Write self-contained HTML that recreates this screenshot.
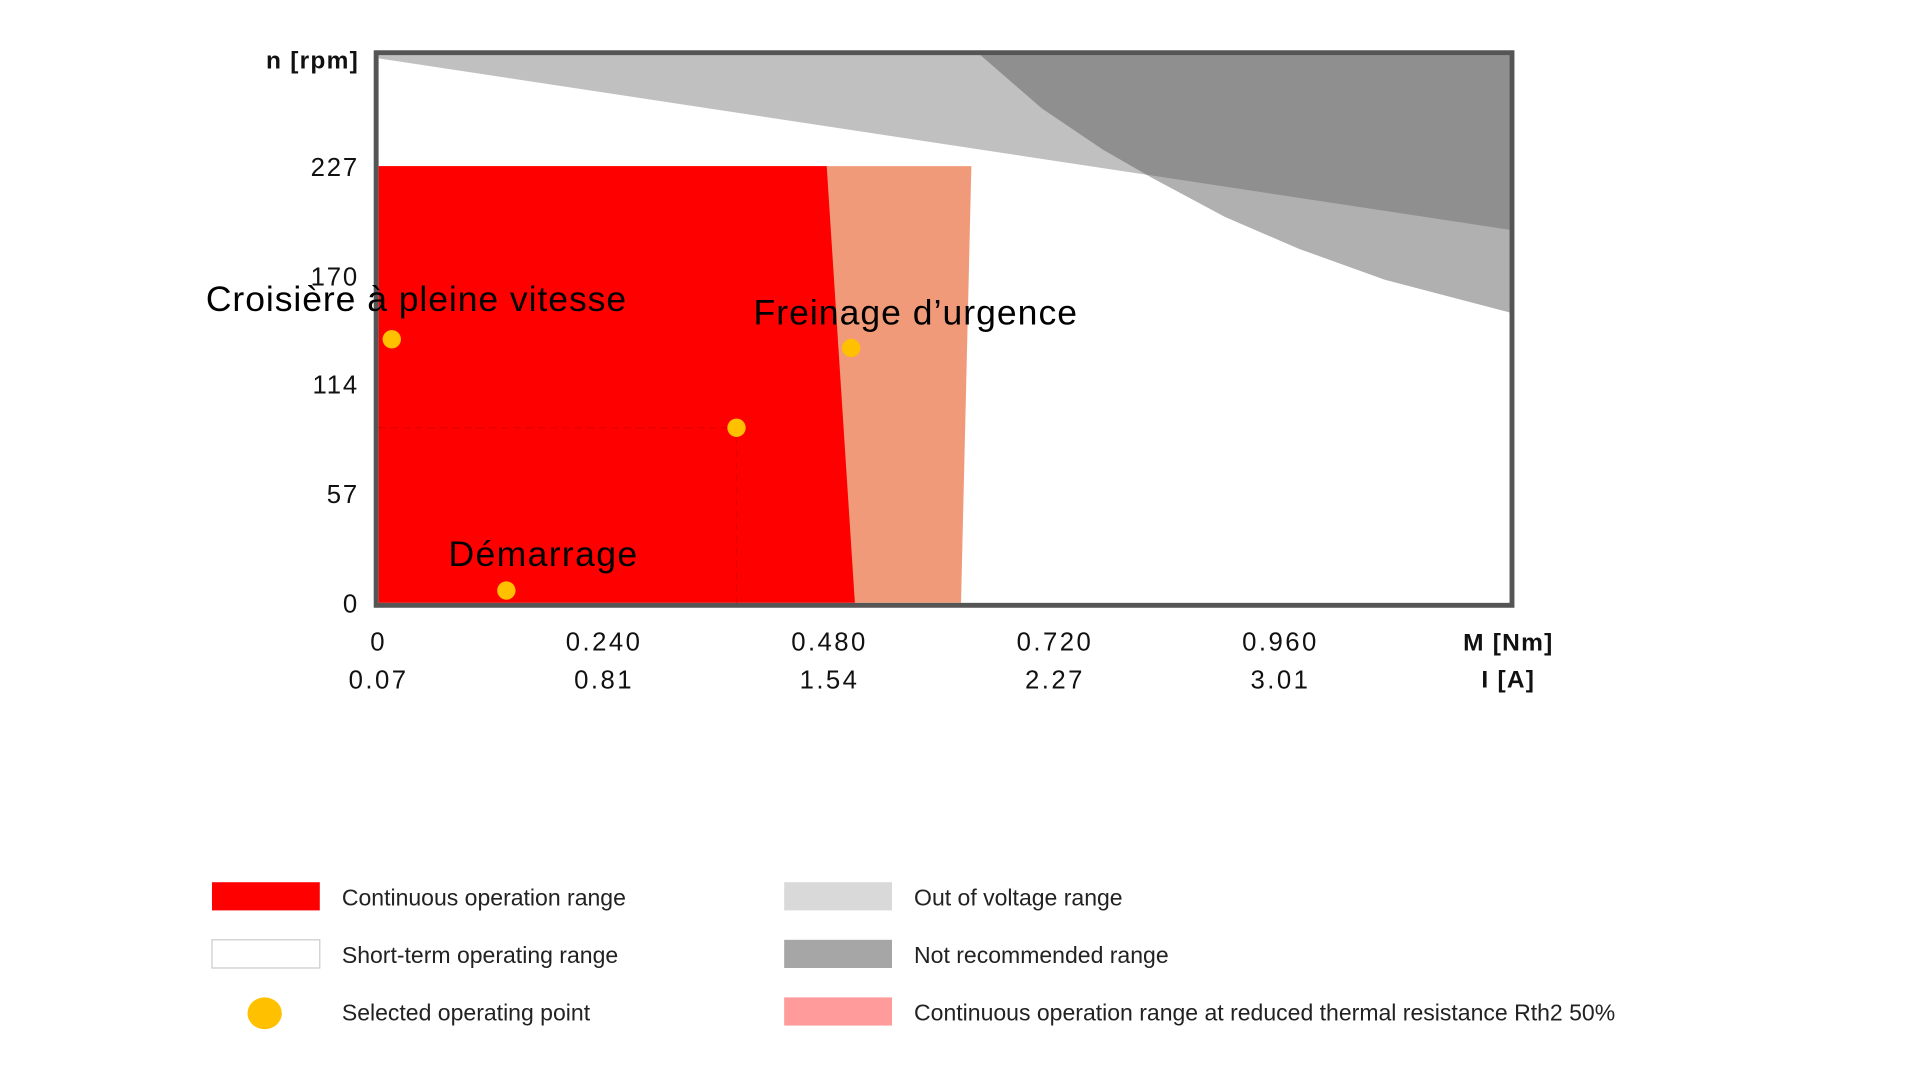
<!DOCTYPE html>
<html><head><meta charset="utf-8"><style>
html,body{margin:0;padding:0;background:#fff;width:1920px;height:1080px;overflow:hidden}
svg{display:block}
text{font-family:"Liberation Sans",sans-serif}
</style></head><body>
<svg id="chart" width="1920" height="1080" viewBox="0 0 1567 881.4">
<g id="plot"></g>
<g id="axes"></g>
<g id="legend"></g>
</svg>
<script>
// Data arrays
const mTicks = [0, 0.24, 0.48, 0.72, 0.96];
const mTickLabels = ["0", "0.240", "0.480", "0.720", "0.960"];
const iTickLabels = ["0.07", "0.81", "1.54", "2.27", "3.01"];
const nTicks = [0, 57, 114, 170, 227];
const nTickLabels = ["0", "57", "114", "170", "227"];
const continuousTopM = 0.477, continuousBottomM = 0.507, continuousMaxN = 227;
const reducedTopM = 0.631, reducedBottomM = 0.620;
const voltageLineM = [0, 1.203];
const voltageLineN = [283, 194];
const notRecCurveM = [0.640, 0.706, 0.771, 0.823, 0.901, 0.980, 1.071, 1.204];
const notRecCurveN = [285, 257, 235.6, 221, 200.6, 184, 168, 151];
const pointNames = ["Croisière à pleine vitesse", "Freinage d’urgence", "", "Démarrage"];
const pointM = [0.014, 0.503, 0.381, 0.136];
const pointN = [137, 132.5, 91, 6.4];

const X0 = 309, XPX = 184 / 0.24, Y0 = 492, YPX = 89.5 / 57;
const sx = m => X0 + m * XPX;
const sy = n => Y0 - n * YPX;
const NS = "http://www.w3.org/2000/svg";
const plot = document.getElementById('plot'), axes = document.getElementById('axes'), legend = document.getElementById('legend');
function mk(tag, attrs, parent) {
  const e = document.createElementNS(NS, tag);
  for (const k in attrs) e.setAttribute(k, attrs[k]);
  parent.appendChild(e); return e;
}
const L = 309, R = 1232, T = 45, B = 492;
const nTop = (Y0 - T) / YPX, mRight = (R - X0) / XPX;

const defs = mk('defs', {}, plot);
const cp = mk('clipPath', {id: 'pc'}, defs);
mk('rect', {x: L, y: T, width: R - L, height: B - T}, cp);
const g = mk('g', {'clip-path': 'url(#pc)'}, plot);



const vN = m => voltageLineN[0] + (voltageLineN[1] - voltageLineN[0]) * (m - voltageLineM[0]) / (voltageLineM[1] - voltageLineM[0]);
let ix = 0;
for (let i = 0; i < notRecCurveM.length - 1; i++) {
  if (notRecCurveN[i] >= vN(notRecCurveM[i]) && notRecCurveN[i + 1] < vN(notRecCurveM[i + 1])) ix = i;
}
const a0 = notRecCurveN[ix] - vN(notRecCurveM[ix]), a1 = notRecCurveN[ix + 1] - vN(notRecCurveM[ix + 1]);
const tI = a0 / (a0 - a1);
const mI = notRecCurveM[ix] + tI * (notRecCurveM[ix + 1] - notRecCurveM[ix]);
const nI = vN(mI);
const curvePts = notRecCurveM.map((m, i) => [sx(m), sy(notRecCurveN[i])]);

let p = `M${sx(0)},${sy(nTop + 5)} L${sx(0)},${sy(vN(0))} L${sx(mI)},${sy(nI)} `;
for (let i = ix + 1; i < curvePts.length; i++) p += `L${curvePts[i][0]},${curvePts[i][1]} `;
p += `L${sx(mRight + 0.05)},${sy(notRecCurveN[notRecCurveN.length - 1])} L${sx(mRight + 0.05)},${sy(nTop + 5)} Z`;
const ov = mk('path', {d: p, fill: '#c0c0c0'}, g);


let p2 = `M${sx(mI)},${sy(nI)} `;
for (let i = ix + 1; i < curvePts.length; i++) p2 += `L${curvePts[i][0]},${curvePts[i][1]} `;
p2 += `L${sx(mRight + 0.05)},${curvePts[curvePts.length - 1][1]} L${sx(mRight + 0.05)},${sy(vN(mRight + 0.05))} Z`;
const ov2 = mk('path', {d: p2, fill: '#b0b0b0'}, g);


let p3 = `M${curvePts[0][0]},${sy(nTop + 5)} `;
for (let i = 0; i <= ix; i++) p3 += `L${curvePts[i][0]},${curvePts[i][1]} `;
p3 += `L${sx(mI)},${sy(nI)} L${sx(mRight + 0.05)},${sy(vN(mRight + 0.05))} L${sx(mRight + 0.05)},${sy(nTop + 5)} Z`;
const nr = mk('path', {d: p3, fill: '#8f8f8f'}, g);



const sa = mk('path', {d: `M${sx(0)},${sy(continuousMaxN)} L${sx(reducedTopM)},${sy(continuousMaxN)} L${sx(reducedBottomM)},${sy(0)} L${sx(0)},${sy(0)} Z`, fill: '#f09a7a'}, g);


const cr = mk('path', {d: `M${sx(0)},${sy(continuousMaxN)} L${sx(continuousTopM)},${sy(continuousMaxN)} L${sx(continuousBottomM)},${sy(0)} L${sx(0)},${sy(0)} Z`, fill: '#ff0000'}, g);



const gl = mk('path', {d: `M${sx(0)},${sy(pointN[2])} L${sx(pointM[2])},${sy(pointN[2])} L${sx(pointM[2])},${sy(0)}`, fill: 'none', stroke: '#e00000', 'stroke-width': 1, 'stroke-dasharray': '6 4'}, g);



const fr = mk('rect', {x: 307, y: 43, width: 927, height: 451, fill: 'none', stroke: '#555', 'stroke-width': 4}, plot);



pointM.forEach((m, i) => {
  const c = mk('circle', {cx: sx(m), cy: sy(pointN[i]), r: 7.5, fill: '#ffc000'}, plot);
  
  
});
const annPos = [[168, 254, 343], [615, 265, 264], null, [366, 462, 154]];
pointNames.forEach((t, i) => {
  if (!t) return;
  const e = mk('text', {x: annPos[i][0], y: annPos[i][1], 'font-size': 29, fill: '#000', textLength: annPos[i][2], lengthAdjust: 'spacing'}, plot);
  e.textContent = t;
  
  
});

nTicks.forEach((n, i) => {
  const e = mk('text', {x: 293, y: sy(n) + 8, 'font-size': 21, 'text-anchor': 'end', fill: '#111', 'letter-spacing': 1.5}, axes);
  e.textContent = nTickLabels[i];
  
  
});
const yt = mk('text', {x: 293, y: 56, 'font-size': 20, 'text-anchor': 'end', 'font-weight': 'bold', fill: '#111', 'letter-spacing': 1}, axes);
yt.textContent = 'n [rpm]';


mTicks.forEach((m, i) => {
  const e = mk('text', {x: sx(m), y: 531, 'font-size': 21, 'text-anchor': 'middle', fill: '#111', 'letter-spacing': 2}, axes);
  e.textContent = mTickLabels[i];
  
  
  const f = mk('text', {x: sx(m), y: 562, 'font-size': 21, 'text-anchor': 'middle', fill: '#111', 'letter-spacing': 2}, axes);
  f.textContent = iTickLabels[i];
  
  
});
const xt = mk('text', {x: 1231, y: 531, 'font-size': 20, 'text-anchor': 'middle', 'font-weight': 'bold', fill: '#111', 'letter-spacing': 1}, axes);
xt.textContent = 'M [Nm]';


const it = mk('text', {x: 1231, y: 561, 'font-size': 20, 'text-anchor': 'middle', 'font-weight': 'bold', fill: '#111', 'letter-spacing': 1}, axes);
it.textContent = 'I [A]';



const legItems = [
  [173, 720, 'rect', '#ff0000', 'Continuous operation range', 'none'],
  [173, 767, 'rect', '#ffffff', 'Short-term operating range', '#ccc'],
  [173, 814, 'dot', '#ffc000', 'Selected operating point', 'none'],
  [640, 720, 'rect', '#d9d9d9', 'Out of voltage range', 'none'],
  [640, 767, 'rect', '#a6a6a6', 'Not recommended range', 'none'],
  [640, 814, 'rect', '#ff9b9b', 'Continuous operation range at reduced thermal resistance Rth2 50%', 'none']
];
legItems.forEach(it => {
  const gg = mk('g', {}, legend);
  
  
  if (it[2] === 'rect') mk('rect', {x: it[0], y: it[1], width: 88, height: 23, fill: it[3], stroke: it[5], 'stroke-width': 1}, gg);
  else mk('ellipse', {cx: it[0] + 43, cy: it[1] + 13, rx: 14, ry: 13, fill: it[3]}, gg);
  const t = mk('text', {x: it[0] + 106, y: it[1] + 19, 'font-size': 18.8, fill: '#222'}, gg);
  t.textContent = it[4];
});
</script>
</body></html>
